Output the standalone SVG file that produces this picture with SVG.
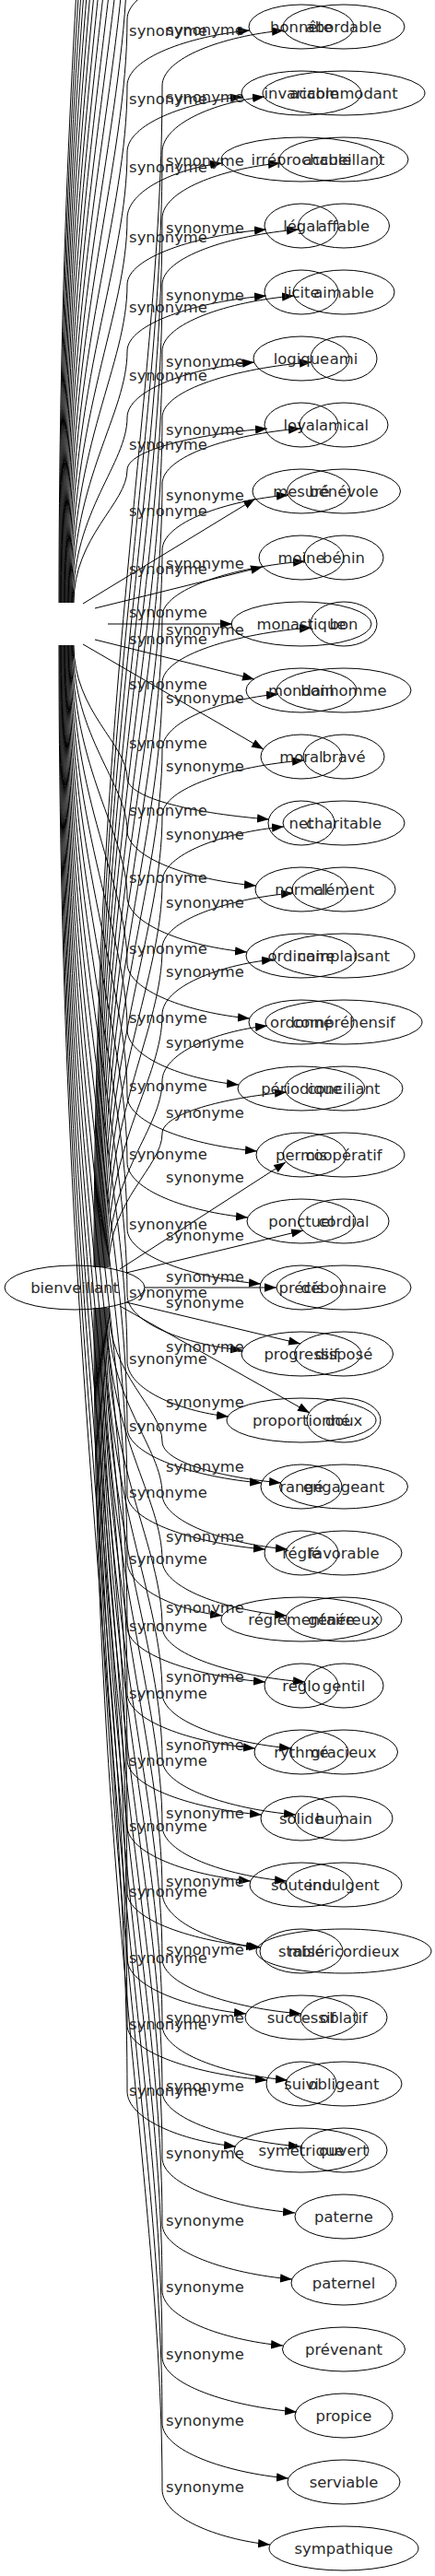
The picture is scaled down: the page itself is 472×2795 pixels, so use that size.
<svg xmlns="http://www.w3.org/2000/svg" width="472" height="2795" viewBox="0 0 472 2795">
<defs>
<marker id="ah" markerUnits="userSpaceOnUse" markerWidth="14" markerHeight="10" refX="13" refY="5" orient="auto"><path d="M0,0.3 L13,5 L0,9.7 z" fill="#000"/></marker>
<style>
.e{fill:none;stroke:#000;stroke-width:1;marker-end:url(#ah)}
.h{fill:none;stroke:#000;stroke-width:1}
ellipse{fill:none;stroke:#000;stroke-width:1}
text{font-family:"DejaVu Sans",sans-serif;font-size:16.4px;fill:#2a2a2a;text-anchor:middle}
</style>
</defs>
<rect width="472" height="2795" fill="#fff"/>
<g id="edges">
<path class="h" d="M64,654 C64,-130 138,-523 138,-915"/>
<path class="h" d="M64.8,654 C64.8,-94 138,-469 138,-843"/>
<path class="h" d="M65.6,654 C65.6,-58 138,-415 138,-771"/>
<path class="h" d="M66.4,654 C66.4,-22 138,-361 138,-699"/>
<path class="h" d="M67.2,654 C67.2,14 138,-307 138,-627"/>
<path class="h" d="M68,654 C68,50 138,-253 138,-555"/>
<path class="h" d="M68.8,654 C68.8,86 138,-199 138,-483"/>
<path class="h" d="M69.6,654 C69.6,122 138,-145 138,-411"/>
<path class="h" d="M70.4,654 C70.4,158 138,-91 138,-339"/>
<path class="h" d="M71.2,654 C71.2,194 138,-37 138,-267"/>
<path class="h" d="M72,654 C72,230 138,17 138,-195"/>
<path class="h" d="M72.8,654 C72.8,266 138,71 138,-123"/>
<path class="h" d="M73.6,654 C73.6,302 138,125 138,-51"/>
<path class="h" d="M74.4,654 C74.4,338 138,179 138,21 C138,-9 204,-33 270,-39"/>
<path class="e" d="M75.2,654 C75.2,374 138,233 138,93 C138,63 205,39 271,33"/>
<path class="e" d="M76,654 C76,410 138,287 138,165 C138,135 201,111 263,105"/>
<path class="e" d="M76.8,654 C76.8,446 138,341 138,237 C138,207 190,183 241,177"/>
<path class="e" d="M77.6,654 C77.6,482 138,395 138,309 C138,279 214,255 289,249"/>
<path class="e" d="M78.4,654 C78.4,518 138,449 138,381 C138,351 214,327 289,321"/>
<path class="e" d="M79.2,654 C79.2,554 138,503 138,453 C138,423 207,399 276,393"/>
<path class="e" d="M80,654 C80,582 138,546 138,510 C138,488 214,471 290,465"/>
<path class="e" d="M90,655 L277,541"/>
<path class="e" d="M103,660 L285,615"/>
<path class="e" d="M117,677 L252,677"/>
<path class="e" d="M103,694 L276,737"/>
<path class="e" d="M90,699 L286,813"/>
<path class="e" d="M80,700 C80,772 138,808 138,844 C138,867 215,883 292,889"/>
<path class="e" d="M79.2,700 C79.2,800 138,851 138,901 C138,931 208,955 278,961"/>
<path class="e" d="M78.4,700 C78.4,836 138,905 138,973 C138,1003 203,1027 268,1033"/>
<path class="e" d="M77.6,700 C77.6,872 138,959 138,1045 C138,1075 205,1099 271,1105"/>
<path class="e" d="M76.8,700 C76.8,908 138,1013 138,1117 C138,1147 199,1171 259,1177"/>
<path class="e" d="M76,700 C76,944 138,1067 138,1189 C138,1219 209,1243 279,1249"/>
<path class="e" d="M75.2,700 C75.2,980 138,1121 138,1261 C138,1291 204,1315 269,1321"/>
<path class="e" d="M74.4,700 C74.4,1016 138,1175 138,1333 C138,1363 211,1387 283,1393"/>
<path class="e" d="M73.6,700 C73.6,1052 138,1229 138,1405 C138,1435 201,1459 263,1465"/>
<path class="e" d="M72.8,700 C72.8,1088 138,1283 138,1477 C138,1507 193,1531 248,1537"/>
<path class="e" d="M72,700 C72,1124 138,1337 138,1549 C138,1579 211,1603 284,1609"/>
<path class="e" d="M71.2,700 C71.2,1160 138,1391 138,1621 C138,1651 213,1675 288,1681"/>
<path class="e" d="M70.4,700 C70.4,1196 138,1445 138,1693 C138,1723 190,1747 241,1753"/>
<path class="e" d="M69.6,700 C69.6,1232 138,1499 138,1765 C138,1795 213,1819 288,1825"/>
<path class="e" d="M68.8,700 C68.8,1268 138,1553 138,1837 C138,1867 208,1891 277,1897"/>
<path class="e" d="M68,700 C68,1304 138,1607 138,1909 C138,1939 211,1963 284,1969"/>
<path class="e" d="M67.2,700 C67.2,1340 138,1661 138,1981 C138,2011 205,2035 272,2041"/>
<path class="e" d="M66.4,700 C66.4,1376 138,1715 138,2053 C138,2083 211,2107 283,2113"/>
<path class="e" d="M65.6,700 C65.6,1412 138,1769 138,2125 C138,2155 203,2179 267,2185"/>
<path class="e" d="M64.8,700 C64.8,1448 138,1823 138,2197 C138,2227 214,2251 290,2257"/>
<path class="e" d="M64,700 C64,1484 138,1877 138,2269 C138,2299 197,2323 256,2329"/>
<path class="e" d="M102,1375 C102,734 176,414 176,93 C176,63 242,39 308,33"/>
<path class="e" d="M103,1375 C103,770 176,468 176,165 C176,135 232,111 287,105"/>
<path class="e" d="M104,1375 C104,806 176,522 176,237 C176,207 240,183 304,177"/>
<path class="e" d="M105,1375 C105,842 176,576 176,309 C176,279 250,255 324,249"/>
<path class="e" d="M106,1375 C106,878 176,630 176,381 C176,351 248,327 319,321"/>
<path class="e" d="M107,1375 C107,914 176,684 176,453 C176,423 257,399 338,393"/>
<path class="e" d="M108,1375 C108,950 176,738 176,525 C176,495 251,471 326,465"/>
<path class="e" d="M109,1375 C109,986 176,792 176,597 C176,567 245,543 313,537"/>
<path class="e" d="M110,1375 C110,1022 176,846 176,669 C176,639 254,615 331,609"/>
<path class="e" d="M111,1375 C111,1058 176,900 176,741 C176,711 257,687 338,681"/>
<path class="e" d="M112,1375 C112,1094 176,954 176,813 C176,783 239,759 302,753"/>
<path class="e" d="M113,1375 C113,1130 176,1008 176,885 C176,855 253,831 330,825"/>
<path class="e" d="M114,1375 C114,1166 176,1062 176,957 C176,927 242,903 308,897"/>
<path class="e" d="M115,1375 C115,1202 176,1116 176,1029 C176,999 247,975 318,969"/>
<path class="e" d="M116,1375 C116,1238 176,1170 176,1101 C176,1071 237,1047 297,1041"/>
<path class="e" d="M117,1375 C117,1274 176,1224 176,1173 C176,1143 233,1119 290,1113"/>
<path class="e" d="M118,1375 C118,1302 176,1266 176,1230 C176,1208 244,1191 311,1185"/>
<path class="e" d="M130,1377 L310,1261"/>
<path class="e" d="M137,1381 L329,1335"/>
<path class="e" d="M157,1397 L300,1397"/>
<path class="e" d="M137,1413 L326,1458"/>
<path class="e" d="M130,1417 L336,1533"/>
<path class="e" d="M118,1419 C118,1492 176,1528 176,1564 C176,1587 241,1603 305,1609"/>
<path class="e" d="M117,1419 C117,1520 176,1571 176,1621 C176,1651 244,1675 312,1681"/>
<path class="e" d="M116,1419 C116,1556 176,1625 176,1693 C176,1723 244,1747 311,1753"/>
<path class="e" d="M115,1419 C115,1592 176,1679 176,1765 C176,1795 254,1819 331,1825"/>
<path class="e" d="M114,1419 C114,1628 176,1733 176,1837 C176,1867 246,1891 316,1897"/>
<path class="e" d="M113,1419 C113,1664 176,1787 176,1909 C176,1939 249,1963 321,1969"/>
<path class="e" d="M112,1419 C112,1700 176,1841 176,1981 C176,2011 244,2035 311,2041"/>
<path class="e" d="M111,1419 C111,1736 176,1895 176,2053 C176,2083 228,2107 280,2113"/>
<path class="e" d="M110,1419 C110,1772 176,1949 176,2125 C176,2155 252,2179 327,2185"/>
<path class="e" d="M109,1419 C109,1808 176,2003 176,2197 C176,2227 244,2251 312,2257"/>
<path class="e" d="M108,1419 C108,1844 176,2057 176,2269 C176,2299 251,2323 326,2329"/>
<path class="e" d="M107,1419 C107,1880 176,2111 176,2341 C176,2371 248,2395 320,2401"/>
<path class="e" d="M106,1419 C106,1916 176,2165 176,2413 C176,2443 247,2467 317,2473"/>
<path class="e" d="M105,1419 C105,1952 176,2219 176,2485 C176,2515 242,2539 307,2545"/>
<path class="e" d="M104,1419 C104,1988 176,2273 176,2557 C176,2587 249,2611 322,2617"/>
<path class="e" d="M103,1419 C103,2024 176,2327 176,2629 C176,2659 245,2683 313,2689"/>
<path class="e" d="M102,1419 C102,2060 176,2381 176,2701 C176,2731 235,2755 293,2761"/>
</g>
<g id="edge-labels">
<text x="182.5" y="39">synonyme</text>
<text x="182.5" y="113">synonyme</text>
<text x="182.5" y="187">synonyme</text>
<text x="182.5" y="263">synonyme</text>
<text x="182.5" y="339">synonyme</text>
<text x="182.5" y="413">synonyme</text>
<text x="182.5" y="488">synonyme</text>
<text x="182.5" y="560">synonyme</text>
<text x="182.5" y="623">synonyme</text>
<text x="182.5" y="670">synonyme</text>
<text x="182.5" y="699">synonyme</text>
<text x="182.5" y="748">synonyme</text>
<text x="182.5" y="812">synonyme</text>
<text x="182.5" y="885">synonyme</text>
<text x="182.5" y="958">synonyme</text>
<text x="182.5" y="1035">synonyme</text>
<text x="182.5" y="1110">synonyme</text>
<text x="182.5" y="1184">synonyme</text>
<text x="182.5" y="1258">synonyme</text>
<text x="182.5" y="1334">synonyme</text>
<text x="182.5" y="1408">synonyme</text>
<text x="182.5" y="1480">synonyme</text>
<text x="182.5" y="1553">synonyme</text>
<text x="182.5" y="1625">synonyme</text>
<text x="182.5" y="1697">synonyme</text>
<text x="182.5" y="1770">synonyme</text>
<text x="182.5" y="1843">synonyme</text>
<text x="182.5" y="1916">synonyme</text>
<text x="182.5" y="1987">synonyme</text>
<text x="182.5" y="2058">synonyme</text>
<text x="182.5" y="2130">synonyme</text>
<text x="182.5" y="2202">synonyme</text>
<text x="182.5" y="2274">synonyme</text>
<text x="222.5" y="38">synonyme</text>
<text x="222.5" y="111">synonyme</text>
<text x="222.5" y="180">synonyme</text>
<text x="222.5" y="253">synonyme</text>
<text x="222.5" y="326">synonyme</text>
<text x="222.5" y="398">synonyme</text>
<text x="222.5" y="472">synonyme</text>
<text x="222.5" y="543">synonyme</text>
<text x="222.5" y="617">synonyme</text>
<text x="222.5" y="689">synonyme</text>
<text x="222.5" y="763">synonyme</text>
<text x="222.5" y="837">synonyme</text>
<text x="222.5" y="911">synonyme</text>
<text x="222.5" y="985">synonyme</text>
<text x="222.5" y="1060">synonyme</text>
<text x="222.5" y="1137">synonyme</text>
<text x="222.5" y="1213">synonyme</text>
<text x="222.5" y="1283">synonyme</text>
<text x="222.5" y="1346">synonyme</text>
<text x="222.5" y="1391">synonyme</text>
<text x="222.5" y="1419">synonyme</text>
<text x="222.5" y="1467">synonyme</text>
<text x="222.5" y="1527">synonyme</text>
<text x="222.5" y="1597">synonyme</text>
<text x="222.5" y="1673">synonyme</text>
<text x="222.5" y="1750">synonyme</text>
<text x="222.5" y="1825">synonyme</text>
<text x="222.5" y="1899">synonyme</text>
<text x="222.5" y="1973">synonyme</text>
<text x="222.5" y="2047">synonyme</text>
<text x="222.5" y="2121">synonyme</text>
<text x="222.5" y="2195">synonyme</text>
<text x="222.5" y="2269">synonyme</text>
<text x="222.5" y="2342">synonyme</text>
<text x="222.5" y="2415">synonyme</text>
<text x="222.5" y="2487">synonyme</text>
<text x="222.5" y="2560">synonyme</text>
<text x="222.5" y="2632">synonyme</text>
<text x="222.5" y="2704">synonyme</text>
</g>
<g id="n-bienveillant"><ellipse cx="81" cy="1397" rx="76" ry="24"/><text x="81" y="1403">bienveillant</text></g>
<g id="n-honnete"><ellipse cx="327" cy="29" rx="57" ry="24"/><text x="327" y="35">honnête</text></g>
<g id="n-invariable"><ellipse cx="327" cy="101" rx="65" ry="24"/><text x="327" y="107">invariable</text></g>
<g id="n-irreprochable"><ellipse cx="327" cy="173" rx="87" ry="24"/><text x="327" y="179">irréprochable</text></g>
<g id="n-legal"><ellipse cx="327" cy="245" rx="40" ry="24"/><text x="327" y="251">légal</text></g>
<g id="n-licite"><ellipse cx="327" cy="317" rx="40" ry="24"/><text x="327" y="323">licite</text></g>
<g id="n-logique"><ellipse cx="327" cy="389" rx="52" ry="24"/><text x="327" y="395">logique</text></g>
<g id="n-loyal"><ellipse cx="327" cy="461" rx="40" ry="24"/><text x="327" y="467">loyal</text></g>
<g id="n-mesure"><ellipse cx="327" cy="533" rx="53" ry="24"/><text x="327" y="539">mesuré</text></g>
<g id="n-moine"><ellipse cx="327" cy="605" rx="46" ry="24"/><text x="327" y="611">moine</text></g>
<g id="n-monastique"><ellipse cx="327" cy="677" rx="76" ry="24"/><text x="327" y="683">monastique</text></g>
<g id="n-mondain"><ellipse cx="327" cy="749" rx="60" ry="24"/><text x="327" y="755">mondain</text></g>
<g id="n-moral"><ellipse cx="327" cy="821" rx="44" ry="24"/><text x="327" y="827">moral</text></g>
<g id="n-net"><ellipse cx="327" cy="893" rx="36" ry="24"/><text x="327" y="899">net</text></g>
<g id="n-normal"><ellipse cx="327" cy="965" rx="50" ry="24"/><text x="327" y="971">normal</text></g>
<g id="n-ordinaire"><ellipse cx="327" cy="1037" rx="60" ry="24"/><text x="327" y="1043">ordinaire</text></g>
<g id="n-ordonne"><ellipse cx="327" cy="1109" rx="57" ry="24"/><text x="327" y="1115">ordonné</text></g>
<g id="n-periodique"><ellipse cx="327" cy="1181" rx="69" ry="24"/><text x="327" y="1187">périodique</text></g>
<g id="n-permis"><ellipse cx="327" cy="1253" rx="49" ry="24"/><text x="327" y="1259">permis</text></g>
<g id="n-ponctuel"><ellipse cx="327" cy="1325" rx="59" ry="24"/><text x="327" y="1331">ponctuel</text></g>
<g id="n-precis"><ellipse cx="327" cy="1397" rx="45" ry="24"/><text x="327" y="1403">précis</text></g>
<g id="n-progressif"><ellipse cx="327" cy="1469" rx="65" ry="24"/><text x="327" y="1475">progressif</text></g>
<g id="n-proportionne"><ellipse cx="327" cy="1541" rx="81" ry="24"/><text x="327" y="1547">proportionné</text></g>
<g id="n-range"><ellipse cx="327" cy="1613" rx="44" ry="24"/><text x="327" y="1619">rangé</text></g>
<g id="n-regle"><ellipse cx="327" cy="1685" rx="40" ry="24"/><text x="327" y="1691">réglé</text></g>
<g id="n-reglementaire"><ellipse cx="327" cy="1757" rx="87" ry="24"/><text x="327" y="1763">réglementaire</text></g>
<g id="n-reglo"><ellipse cx="327" cy="1829" rx="40" ry="24"/><text x="327" y="1835">réglo</text></g>
<g id="n-rythme"><ellipse cx="327" cy="1901" rx="51" ry="24"/><text x="327" y="1907">rythmé</text></g>
<g id="n-solide"><ellipse cx="327" cy="1973" rx="44" ry="24"/><text x="327" y="1979">solide</text></g>
<g id="n-soutenu"><ellipse cx="327" cy="2045" rx="56" ry="24"/><text x="327" y="2051">soutenu</text></g>
<g id="n-stable"><ellipse cx="327" cy="2117" rx="45" ry="24"/><text x="327" y="2123">stable</text></g>
<g id="n-successif"><ellipse cx="327" cy="2189" rx="61" ry="24"/><text x="327" y="2195">successif</text></g>
<g id="n-suivi"><ellipse cx="327" cy="2261" rx="38" ry="24"/><text x="327" y="2267">suivi</text></g>
<g id="n-symetrique"><ellipse cx="327" cy="2333" rx="73" ry="24"/><text x="327" y="2339">symétrique</text></g>
<g id="n-abordable"><ellipse cx="373" cy="29" rx="66" ry="24"/><text x="373" y="35">abordable</text></g>
<g id="n-accommodant"><ellipse cx="373" cy="101" rx="88" ry="24"/><text x="373" y="107">accommodant</text></g>
<g id="n-accueillant"><ellipse cx="373" cy="173" rx="70" ry="24"/><text x="373" y="179">accueillant</text></g>
<g id="n-affable"><ellipse cx="373" cy="245" rx="49.5" ry="24"/><text x="373" y="251">affable</text></g>
<g id="n-aimable"><ellipse cx="373" cy="317" rx="55" ry="24"/><text x="373" y="323">aimable</text></g>
<g id="n-ami"><ellipse cx="373" cy="389" rx="36" ry="24"/><text x="373" y="395">ami</text></g>
<g id="n-amical"><ellipse cx="373" cy="461" rx="48" ry="24"/><text x="373" y="467">amical</text></g>
<g id="n-benevole"><ellipse cx="373" cy="533" rx="61.5" ry="24"/><text x="373" y="539">bénévole</text></g>
<g id="n-benin"><ellipse cx="373" cy="605" rx="43" ry="24"/><text x="373" y="611">bénin</text></g>
<g id="n-bon"><ellipse cx="373" cy="677" rx="36" ry="24"/><text x="373" y="683">bon</text></g>
<g id="n-bonhomme"><ellipse cx="373" cy="749" rx="73" ry="24"/><text x="373" y="755">bonhomme</text></g>
<g id="n-brave"><ellipse cx="373" cy="821" rx="44" ry="24"/><text x="373" y="827">bravé</text></g>
<g id="n-charitable"><ellipse cx="373" cy="893" rx="66" ry="24"/><text x="373" y="899">charitable</text></g>
<g id="n-clement"><ellipse cx="373" cy="965" rx="56" ry="24"/><text x="373" y="971">clément</text></g>
<g id="n-complaisant"><ellipse cx="373" cy="1037" rx="77" ry="24"/><text x="373" y="1043">complaisant</text></g>
<g id="n-comprehensif"><ellipse cx="373" cy="1109" rx="85" ry="24"/><text x="373" y="1115">compréhensif</text></g>
<g id="n-conciliant"><ellipse cx="373" cy="1181" rx="64" ry="24"/><text x="373" y="1187">conciliant</text></g>
<g id="n-cooperatif"><ellipse cx="373" cy="1253" rx="66" ry="24"/><text x="373" y="1259">coopératif</text></g>
<g id="n-cordial"><ellipse cx="373" cy="1325" rx="49" ry="24"/><text x="373" y="1331">cordial</text></g>
<g id="n-debonnaire"><ellipse cx="373" cy="1397" rx="73" ry="24"/><text x="373" y="1403">débonnaire</text></g>
<g id="n-dispose"><ellipse cx="373" cy="1469" rx="53.5" ry="24"/><text x="373" y="1475">disposé</text></g>
<g id="n-doux"><ellipse cx="373" cy="1541" rx="40" ry="24"/><text x="373" y="1547">doux</text></g>
<g id="n-engageant"><ellipse cx="373" cy="1613" rx="69.5" ry="24"/><text x="373" y="1619">engageant</text></g>
<g id="n-favorable"><ellipse cx="373" cy="1685" rx="63" ry="24"/><text x="373" y="1691">favorable</text></g>
<g id="n-genereux"><ellipse cx="373" cy="1757" rx="63" ry="24"/><text x="373" y="1763">généreux</text></g>
<g id="n-gentil"><ellipse cx="373" cy="1829" rx="43" ry="24"/><text x="373" y="1835">gentil</text></g>
<g id="n-gracieux"><ellipse cx="373" cy="1901" rx="58.5" ry="24"/><text x="373" y="1907">gracieux</text></g>
<g id="n-humain"><ellipse cx="373" cy="1973" rx="53" ry="24"/><text x="373" y="1979">humain</text></g>
<g id="n-indulgent"><ellipse cx="373" cy="2045" rx="63" ry="24"/><text x="373" y="2051">indulgent</text></g>
<g id="n-misericordieux"><ellipse cx="373" cy="2117" rx="95" ry="24"/><text x="373" y="2123">miséricordieux</text></g>
<g id="n-oblatif"><ellipse cx="373" cy="2189" rx="47" ry="24"/><text x="373" y="2195">oblatif</text></g>
<g id="n-obligeant"><ellipse cx="373" cy="2261" rx="63" ry="24"/><text x="373" y="2267">obligeant</text></g>
<g id="n-ouvert"><ellipse cx="373" cy="2333" rx="47" ry="24"/><text x="373" y="2339">ouvert</text></g>
<g id="n-paterne"><ellipse cx="373" cy="2405" rx="53" ry="24"/><text x="373" y="2411">paterne</text></g>
<g id="n-paternel"><ellipse cx="373" cy="2477" rx="57" ry="24"/><text x="373" y="2483">paternel</text></g>
<g id="n-prevenant"><ellipse cx="373" cy="2549" rx="66.5" ry="24"/><text x="373" y="2555">prévenant</text></g>
<g id="n-propice"><ellipse cx="373" cy="2621" rx="53" ry="24"/><text x="373" y="2627">propice</text></g>
<g id="n-serviable"><ellipse cx="373" cy="2693" rx="61" ry="24"/><text x="373" y="2699">serviable</text></g>
<g id="n-sympathique"><ellipse cx="373" cy="2765" rx="81" ry="24"/><text x="373" y="2771">sympathique</text></g>
</svg>
